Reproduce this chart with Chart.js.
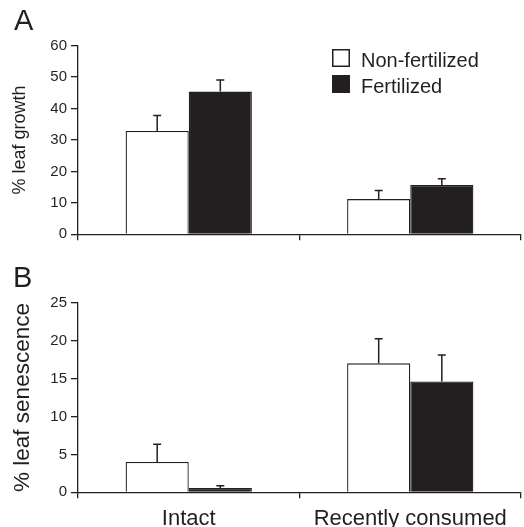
<!DOCTYPE html>
<html><head><meta charset="utf-8">
<script src="https://cdn.jsdelivr.net/npm/chart.js@4"></script>
<style>
html,body{margin:0;padding:0;background:#fff;}
#wrap{position:relative;width:524px;height:527px;overflow:hidden;}
#cA{position:absolute;left:0;top:0;}
#cB{position:absolute;left:0;top:250px;}
</style></head><body>
<div id="wrap"><canvas id="cA" width="524" height="250"></canvas><canvas id="cB" width="524" height="277"></canvas></div>
<script>
const categories = ['Intact', 'Recently consumed'];
const seriesNames = ['Non-fertilized', 'Fertilized'];
const growthNonFert = [32.9, 11.2];
const growthFert = [45.4, 15.7];
const growthNonFertErr = [4.9, 2.7];
const growthFertErr = [3.7, 2.0];
const senNonFert = [4.0, 17.0];
const senFert = [0.57, 14.6];
const senNonFertErr = [2.33, 3.25];
const senFertErr = [0.3, 3.5];
const growthTicks = [0, 10, 20, 30, 40, 50, 60];
const senTicks = [0, 5, 10, 15, 20, 25];

const INK = '#231f20';
const FONT = '"Liberation Sans", Arial, Helvetica, sans-serif';

const errorBars = {
  id: 'errorBars',
  afterDatasetsDraw(chart) {
    const ctx = chart.ctx, yScale = chart.scales.y;
    chart.data.datasets.forEach((ds, di) => {
      const meta = chart.getDatasetMeta(di);
      meta.data.forEach((bar, i) => {
        const v = ds.data[i], e = ds.errors[i];
        const yTop = yScale.getPixelForValue(v + e);
        const yBar = yScale.getPixelForValue(v);
        ctx.save();
        ctx.strokeStyle = INK; ctx.lineWidth = 1.5;
        ctx.beginPath();
        ctx.moveTo(bar.x, yBar); ctx.lineTo(bar.x, yTop);
        ctx.moveTo(bar.x - 4, yTop); ctx.lineTo(bar.x + 4, yTop);
        ctx.stroke();
        ctx.restore();
      });
    });
  }
};

const boxLegend = {
  id: 'boxLegend',
  afterDraw(chart, args, opts) {
    if (!opts.show) return;
    const ctx = chart.ctx;
    ctx.save();
    chart.data.datasets.forEach((ds, i) => {
      const x = 332, y = 49 + i * 26;
      ctx.fillStyle = ds.backgroundColor;
      ctx.fillRect(x, y, 18, 18);
      ctx.strokeStyle = INK; ctx.lineWidth = 1.5;
      ctx.strokeRect(x + 0.75, y + 0.75, 16.5, 16.5);
      ctx.fillStyle = INK;
      ctx.font = '20px ' + FONT;
      ctx.textBaseline = 'alphabetic';
      ctx.textAlign = 'left';
      ctx.fillText(ds.label, 361, y + 17.7);
    });
    ctx.restore();
  }
};

const panelLetter = {
  id: 'panelLetter',
  afterDraw(chart, args, opts) {
    const ctx = chart.ctx;
    ctx.save();
    ctx.fillStyle = INK;
    ctx.font = '29px ' + FONT;
    ctx.textBaseline = 'alphabetic';
    ctx.fillText(opts.text, opts.x, opts.y);
    ctx.restore();
  }
};

function makeChart(id, nf, f, nfErr, fErr, ticks, yTitle, titleSize, titlePad, showX, padTop, xH, letter, letterX, letterY, legend) {
  return new Chart(document.getElementById(id), {
    type: 'bar',
    data: {
      labels: categories,
      datasets: [
        { label: seriesNames[0], data: nf, errors: nfErr, backgroundColor: '#ffffff', borderColor: INK, borderWidth: 1.3 },
        { label: seriesNames[1], data: f, errors: fErr, backgroundColor: INK, borderColor: INK, borderWidth: 1.3 }
      ]
    },
    options: {
      responsive: false,
      devicePixelRatio: 1,
      animation: false,
      layout: { padding: { top: padTop, right: 3, left: 0, bottom: 0 } },
      datasets: { bar: { categoryPercentage: 0.57, barPercentage: 1 } },
      plugins: {
        legend: { display: false },
        tooltip: { enabled: false },
        boxLegend: { show: legend },
        panelLetter: { text: letter, x: letterX, y: letterY }
      },
      scales: {
        x: {
          offset: true,
          grid: { display: true, offset: true, drawOnChartArea: false, drawTicks: true, tickLength: 6, color: INK, lineWidth: 1.3 },
          border: { display: true, color: INK, width: 1.3 },
          ticks: { display: showX, color: INK, font: { family: FONT, size: 22 }, padding: 7, maxRotation: 0 },
          afterFit(s) { s.height = xH; }
        },
        y: {
          min: ticks[0], max: ticks[ticks.length - 1],
          grid: { display: true, drawOnChartArea: false, drawTicks: true, tickLength: 7, color: INK, lineWidth: 1.3 },
          border: { display: true, color: INK, width: 1.3 },
          ticks: { stepSize: ticks[1] - ticks[0], color: INK, font: { family: FONT, size: 15 }, padding: 4 },
          title: { display: true, text: yTitle, color: INK, font: { family: FONT, size: titleSize }, padding: { top: titlePad, bottom: 0 } },
          afterFit(s) { s.width = 78; }
        }
      }
    },
    plugins: [errorBars, boxLegend, panelLetter]
  });
}

makeChart('cA', growthNonFert, growthFert, growthNonFertErr, growthFertErr, growthTicks, '% leaf growth', 18, 9.5, false, 45.7, 15.7, 'A', 14, 30, true);
makeChart('cB', senNonFert, senFert, senNonFertErr, senFertErr, senTicks, '% leaf senescence', 22.5, 9.5, true, 52.7, 34.7, 'B', 13, 37, false);
</script>
</body></html>
